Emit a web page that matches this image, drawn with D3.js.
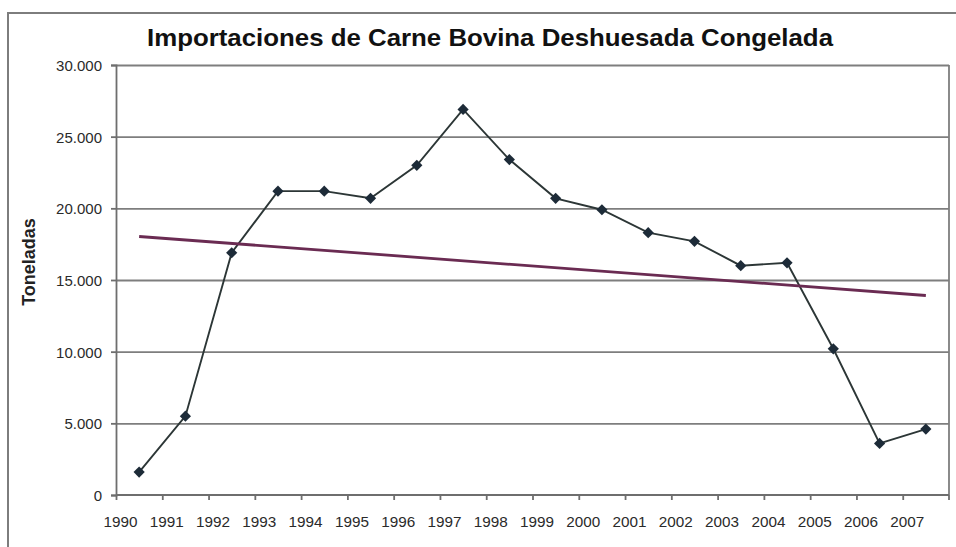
<!DOCTYPE html>
<html>
<head>
<meta charset="utf-8">
<script src="https://cdn.jsdelivr.net/npm/d3@7"></script>
<style>
  body { margin: 0; background: #fff; }
  svg { display: block; font-family: "Liberation Sans", Arial, sans-serif; }
  .grid line { stroke: #7e7e7e; stroke-width: 1.8; }
  .grid path { display: none; }
  .axis path, .axis line { stroke: #6e6e6e; stroke-width: 1.8; }
  .axis text { fill: #2a2a2a; font-size: 15px; }
</style>
</head>
<body>
<svg width="956" height="547"></svg>
<script>
var years = ["1990","1991","1992","1993","1994","1995","1996","1997","1998",
             "1999","2000","2001","2002","2003","2004","2005","2006","2007"];
var toneladas = [1600, 5500, 16900, 21200, 21200, 20700, 23000, 26900, 23400,
                 20700, 19900, 18300, 17700, 16000, 16200, 10200, 3600, 4600];
var yTicks = [0, 5000, 10000, 15000, 20000, 25000, 30000];

var margin = {left: 116, top: 65, right: 7, bottom: 52};
var svg = d3.select("svg");
var width  = 956 - margin.left - margin.right;
var height = 547 - margin.top - margin.bottom;

var esFormat = d3.formatLocale({decimal: ",", thousands: ".", grouping: [3], currency: ["", ""]}).format(",");

// outer chart box
svg.append("path")
    .attr("d", "M8,547V13H956")
    .attr("fill", "none")
    .attr("stroke", "#7d7d7d")
    .attr("stroke-width", 2);

svg.append("text")
    .attr("x", 490)
    .attr("y", 46)
    .attr("text-anchor", "middle")
    .style("font-size", "24px")
    .style("font-weight", "bold")
    .style("fill", "#111")
    .attr("textLength", 686)
    .attr("lengthAdjust", "spacingAndGlyphs")
    .text("Importaciones de Carne Bovina Deshuesada Congelada");

svg.append("text")
    .attr("transform", "translate(35,262) rotate(-90)")
    .attr("text-anchor", "middle")
    .style("font-size", "18px")
    .style("font-weight", "bold")
    .style("fill", "#222")
    .text("Toneladas");

var g = svg.append("g")
    .attr("transform", "translate(" + margin.left + "," + margin.top + ")");

var xScale = d3.scaleBand()
    .domain(years)
    .range([0, width]);
var bw = xScale.bandwidth();
var xEdge = d3.scalePoint()
    .domain(years)
    .range([0, width - bw]);
var yScale = d3.scaleLinear()
    .domain([0, 30000])
    .range([height, 0]);

g.append("g")
    .attr("class", "grid")
    .call(d3.axisLeft(yScale)
        .tickValues(yTicks.slice(1))
        .tickSize(-width)
        .tickFormat("")
    );

// right border of plot
g.append("line")
    .attr("x1", width).attr("x2", width)
    .attr("y1", 0).attr("y2", height)
    .attr("stroke", "#7e7e7e")
    .attr("stroke-width", 1.8);

g.append("g")
    .attr("class", "axis")
    .call(d3.axisLeft(yScale)
        .tickValues(yTicks)
        .tickSize(5)
        .tickPadding(9)
        .tickFormat(esFormat)
    )
    .selectAll(".tick text")
    .attr("dy", "0.36em");

var xAxis = g.append("g")
    .attr("class", "axis")
    .attr("transform", "translate(0," + height + ")")
    .call(d3.axisBottom(xEdge)
        .tickSize(5)
        .tickPadding(16)
        .tickSizeOuter(0)
    );
xAxis.select(".domain").attr("d", "M0,0H" + width);
xAxis.selectAll(".tick text")
    .attr("dx", 4)
    .attr("textLength", 34)
    .attr("lengthAdjust", "spacingAndGlyphs");
xAxis.append("line")
    .attr("x1", width).attr("x2", width)
    .attr("y1", 0).attr("y2", 5)
    .attr("stroke", "#6e6e6e")
    .attr("stroke-width", 1.8);

// linear trend (least squares, as in the original spreadsheet)
var idx = d3.range(1, years.length + 1);
var mx = d3.mean(idx), my = d3.mean(toneladas);
var slope = d3.sum(idx, function(d, i) { return (d - mx) * (toneladas[i] - my); }) /
            d3.sum(idx, function(d) { return (d - mx) * (d - mx); });
var trend = [years[0], years[years.length - 1]].map(function(yr, k) {
    var n = k === 0 ? 1 : years.length;
    return {x: yr, y: my + slope * (n - mx)};
});

var line = d3.line()
    .x(function(d) { return xScale(d.x) + bw / 2; })
    .y(function(d) { return yScale(d.y); });

var data = years.map(function(yr, i) { return {x: yr, y: toneladas[i]}; });

g.append("path")
    .attr("fill", "none")
    .attr("stroke", "#2c3636")
    .attr("stroke-width", 1.9)
    .attr("d", line(data));

g.append("path")
    .attr("fill", "none")
    .attr("stroke", "#6a2b52")
    .attr("stroke-width", 2.8)
    .attr("d", line(trend));

g.selectAll(".dot")
    .data(data)
    .enter().append("path")
    .attr("class", "dot")
    .attr("d", d3.symbol().type(d3.symbolDiamond2).size(80))
    .attr("transform", function(d) { return "translate(" + (xScale(d.x) + bw / 2) + "," + yScale(d.y) + ")"; })
    .attr("fill", "#1d2b38");
</script>
</body>
</html>
